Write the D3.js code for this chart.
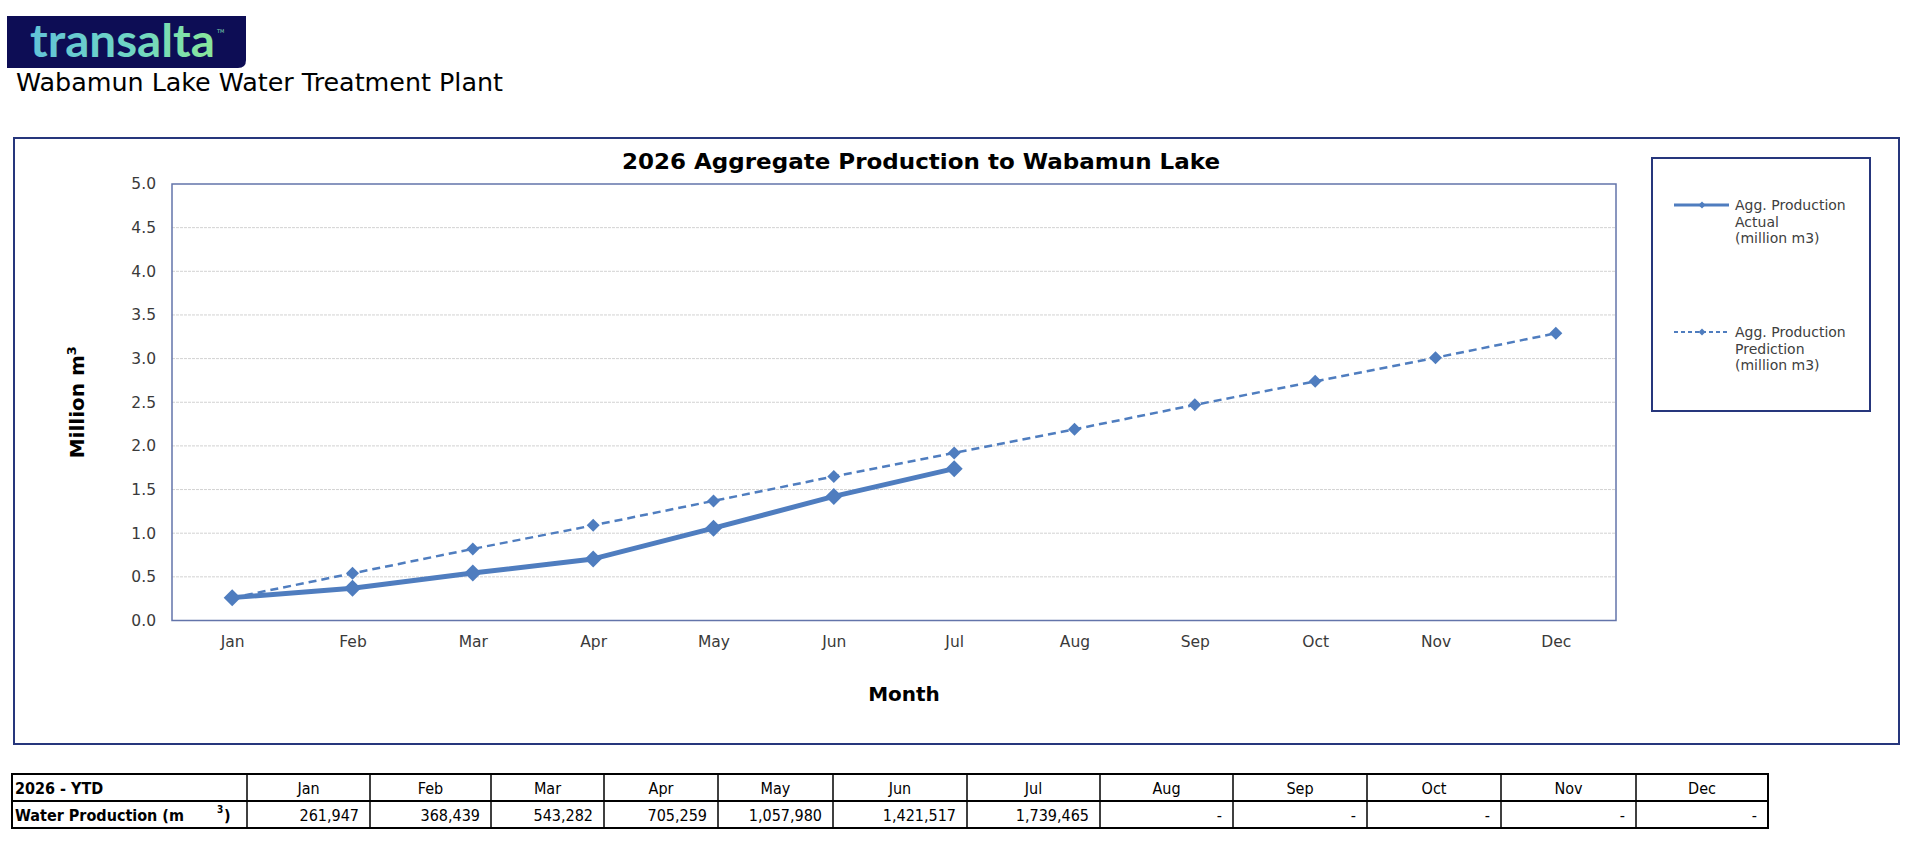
<!DOCTYPE html>
<html>
<head>
<meta charset="utf-8">
<title>2026 Aggregate Production to Wabamun Lake</title>
<script src="https://cdn.jsdelivr.net/npm/d3@7"></script>
<style>
  body { margin: 0; background: #fff; }
  svg { display: block; }
  .tick text { font-family: "DejaVu Sans", Verdana, sans-serif; font-size: 15.5px; fill: #3a3a3a; }
  .domain { display: none; }
</style>
</head>
<body>
<div id="chart"></div>
<script>
// ---- data ----
var months = ["Jan", "Feb", "Mar", "Apr", "May", "Jun", "Jul", "Aug", "Sep", "Oct", "Nov", "Dec"];
// year-to-date water production, m3 (from the table)
var actualM3 = [261947, 368439, 543282, 705259, 1057980, 1421517, 1739465];
// predicted aggregate production, million m3
var predictionMillion = [0.26, 0.54, 0.82, 1.09, 1.37, 1.65, 1.92, 2.19, 2.47, 2.74, 3.01, 3.29];
var yTicks = [0.0, 0.5, 1.0, 1.5, 2.0, 2.5, 3.0, 3.5, 4.0, 4.5, 5.0];
var seriesNames = [
	["Agg. Production", "Actual", "(million m3)"],
	["Agg. Production", "Prediction", "(million m3)"]
];
var tableCorner = "2026 - YTD";
var tableRowLabel = "Water Production (m";

// ---- layout ----
var W = 1920, H = 850;
var plot = { left: 172, right: 1616, top: 184, bottom: 620.5 };
var blue = "#4f7dbf";
var navy = "#26367c";

var svg = d3.select("#chart").append("svg")
	.attr("width", W)
	.attr("height", H);

var defs = svg.append("defs");
var grad = defs.append("linearGradient").attr("id", "logoGrad");
grad.append("stop").attr("offset", "0%").attr("stop-color", "#62c3d8");
grad.append("stop").attr("offset", "55%").attr("stop-color", "#6fd6c4");
grad.append("stop").attr("offset", "100%").attr("stop-color", "#8ae69a");

// logo
svg.append("path")
	.attr("d", "M7,16 H246 V60 Q246,68 238,68 H7 Z")
	.attr("fill", "#0d0d55");
svg.append("text")
	.attr("x", 30)
	.attr("y", 57)
	.attr("textLength", 185)
	.attr("lengthAdjust", "spacingAndGlyphs")
	.style("font-family", "Lato, 'Open Sans', sans-serif")
	.style("font-weight", 700)
	.style("font-size", "46px")
	.attr("fill", "url(#logoGrad)")
	.text("transalta");
svg.append("text")
	.attr("x", 217).attr("y", 33)
	.style("font-family", "DejaVu Sans")
	.style("font-size", "5px")
	.attr("fill", "#7fd8b0")
	.text("TM");

// page heading
svg.append("text")
	.attr("x", 16)
	.attr("y", 91)
	.attr("textLength", 487)
	.attr("lengthAdjust", "spacingAndGlyphs")
	.style("font-family", "'DejaVu Sans', Verdana, sans-serif")
	.style("font-size", "24px")
	.attr("fill", "#000")
	.text("Wabamun Lake Water Treatment Plant");

// chart frame
svg.append("rect")
	.attr("x", 14).attr("y", 138)
	.attr("width", 1885).attr("height", 606)
	.attr("fill", "#fff")
	.attr("stroke", navy)
	.attr("stroke-width", 2);

svg.append("text")
	.attr("x", 622)
	.attr("y", 169)
	.attr("textLength", 598)
	.attr("lengthAdjust", "spacingAndGlyphs")
	.style("font-family", "'DejaVu Sans', Verdana, sans-serif")
	.style("font-weight", "bold")
	.style("font-size", "22px")
	.attr("fill", "#000")
	.text("2026 Aggregate Production to Wabamun Lake");

// scales
var x = d3.scalePoint()
	.domain(months)
	.range([plot.left, plot.right])
	.padding(0.5);

var y = d3.scaleLinear()
	.domain([0, 5])
	.range([plot.bottom, plot.top]);

// gridlines
svg.selectAll("line.grid")
	.data(yTicks.filter(function(d) { return d > 0 && d < 5; }))
	.enter()
	.append("line")
	.attr("class", "grid")
	.attr("x1", plot.left)
	.attr("x2", plot.right)
	.attr("y1", function(d) { return y(d); })
	.attr("y2", function(d) { return y(d); })
	.attr("stroke", "#d2d2d2")
	.attr("stroke-width", 1)
	.attr("stroke-dasharray", "3,1");

// plot border
svg.append("rect")
	.attr("x", plot.left).attr("y", plot.top)
	.attr("width", plot.right - plot.left)
	.attr("height", plot.bottom - plot.top)
	.attr("fill", "none")
	.attr("stroke", "#6374aa")
	.attr("stroke-width", 1.5);

// axes
svg.append("g")
	.attr("transform", "translate(" + plot.left + ",0)")
	.call(d3.axisLeft(y).tickValues(yTicks).tickSize(0).tickPadding(16)
		.tickFormat(d3.format(".1f")));

svg.append("g")
	.attr("transform", "translate(0," + plot.bottom + ")")
	.call(d3.axisBottom(x).tickSize(0).tickPadding(15));

// axis titles
var yt = svg.append("text")
	.attr("transform", "translate(84," + (plot.top + plot.bottom) / 2 + ") rotate(-90)")
	.attr("text-anchor", "middle")
	.style("font-family", "'DejaVu Sans', Verdana, sans-serif")
	.style("font-weight", "bold")
	.style("font-size", "20px")
	.attr("fill", "#000");
yt.append("tspan").text("Million m");
yt.append("tspan").attr("dy", -8).style("font-size", "13px").text("3");

svg.append("text")
	.attr("x", 904)
	.attr("y", 701)
	.attr("text-anchor", "middle")
	.style("font-family", "'DejaVu Sans', Verdana, sans-serif")
	.style("font-weight", "bold")
	.style("font-size", "20px")
	.attr("fill", "#000")
	.text("Month");

// series
var actual = actualM3.map(function(v, i) { return { m: months[i], v: v / 1e6 }; });
var prediction = predictionMillion.map(function(v, i) { return { m: months[i], v: v }; });

var line = d3.line()
	.x(function(d) { return x(d.m); })
	.y(function(d) { return y(d.v); });

var diamond = function(r) {
	return "M0," + (-r) + "L" + r + ",0L0," + r + "L" + (-r) + ",0Z";
};

svg.append("path")
	.datum(prediction)
	.attr("d", line)
	.attr("fill", "none")
	.attr("stroke", blue)
	.attr("stroke-width", 2.5)
	.attr("stroke-dasharray", "8,5");

svg.selectAll("path.pred-pt")
	.data(prediction)
	.enter()
	.append("path")
	.attr("class", "pred-pt")
	.attr("d", diamond(6.5))
	.attr("transform", function(d) { return "translate(" + x(d.m) + "," + y(d.v) + ")"; })
	.attr("fill", blue);

svg.append("path")
	.datum(actual)
	.attr("d", line)
	.attr("fill", "none")
	.attr("stroke", blue)
	.attr("stroke-width", 5)
	.attr("stroke-linejoin", "round");

svg.selectAll("path.act-pt")
	.data(actual)
	.enter()
	.append("path")
	.attr("class", "act-pt")
	.attr("d", diamond(8.5))
	.attr("transform", function(d) { return "translate(" + x(d.m) + "," + y(d.v) + ")"; })
	.attr("fill", blue);

// legend
svg.append("rect")
	.attr("x", 1652).attr("y", 158)
	.attr("width", 218).attr("height", 253)
	.attr("fill", "#fff")
	.attr("stroke", navy)
	.attr("stroke-width", 2);

var legendY = [205, 332];
var leg = svg.selectAll("g.leg")
	.data(seriesNames)
	.enter()
	.append("g")
	.attr("class", "leg")
	.attr("transform", function(d, i) { return "translate(1674," + legendY[i] + ")"; });

leg.append("line")
	.attr("x1", 0).attr("x2", 55)
	.attr("stroke", blue)
	.attr("stroke-width", function(d, i) { return i === 0 ? 3 : 2; })
	.attr("stroke-dasharray", function(d, i) { return i === 0 ? null : "4,3"; });
leg.append("path")
	.attr("d", diamond(3.5))
	.attr("transform", "translate(28,0)")
	.attr("fill", blue);
leg.append("text")
	.attr("x", 61)
	.attr("y", 5)
	.style("font-family", "'DejaVu Sans', Verdana, sans-serif")
	.style("font-size", "14px")
	.attr("fill", "#404040")
	.selectAll("tspan")
	.data(function(d) { return d; })
	.enter()
	.append("tspan")
	.attr("x", 61)
	.attr("dy", function(d, i) { return i === 0 ? 0 : 16.5; })
	.text(function(d) { return d; });

// ---- table ----
var colWidths = [235, 123, 121, 113, 114, 115, 134, 133, 133, 134, 134, 135, 132];
var colEdges = [12];
colWidths.forEach(function(w) { colEdges.push(colEdges[colEdges.length - 1] + w); });
var rowTop = 774, rowH = 27;
var fmt = d3.format(",");
var rowValues = months.map(function(m, i) { return i < actualM3.length ? fmt(actualM3[i]) : "-"; });

var tbl = svg.append("g")
	.style("font-family", "'DejaVu Sans Condensed', 'DejaVu Sans', sans-serif")
	.style("font-size", "16px")
	.attr("fill", "#000");

tbl.selectAll("line.col")
	.data(colEdges.slice(1, -1))
	.enter()
	.append("line")
	.attr("x1", function(d) { return d; })
	.attr("x2", function(d) { return d; })
	.attr("y1", rowTop).attr("y2", rowTop + 2 * rowH)
	.attr("stroke", "#000")
	.attr("stroke-width", 1.5);
tbl.append("line")
	.attr("x1", colEdges[0]).attr("x2", colEdges[colEdges.length - 1])
	.attr("y1", rowTop + rowH).attr("y2", rowTop + rowH)
	.attr("stroke", "#000").attr("stroke-width", 2);
tbl.append("rect")
	.attr("x", colEdges[0]).attr("y", rowTop)
	.attr("width", colEdges[colEdges.length - 1] - colEdges[0])
	.attr("height", 2 * rowH)
	.attr("fill", "none")
	.attr("stroke", "#000")
	.attr("stroke-width", 2);

tbl.append("text")
	.attr("x", colEdges[0] + 3).attr("y", rowTop + 20)
	.style("font-weight", "bold")
	.text(tableCorner);
tbl.append("text")
	.attr("x", colEdges[0] + 3).attr("y", rowTop + rowH + 20)
	.style("font-weight", "bold")
	.text(tableRowLabel);
tbl.append("text")
	.attr("x", colEdges[0] + 205).attr("y", rowTop + rowH + 12)
	.style("font-weight", "bold")
	.style("font-size", "10px")
	.text("3");
tbl.append("text")
	.attr("x", colEdges[0] + 212).attr("y", rowTop + rowH + 20)
	.style("font-weight", "bold")
	.text(")");

tbl.selectAll("text.mh")
	.data(months)
	.enter()
	.append("text")
	.attr("class", "mh")
	.attr("text-anchor", "middle")
	.attr("x", function(d, i) { return (colEdges[i + 1] + colEdges[i + 2]) / 2; })
	.attr("y", rowTop + 20)
	.text(function(d) { return d; });

tbl.selectAll("text.mv")
	.data(rowValues)
	.enter()
	.append("text")
	.attr("class", "mv")
	.attr("text-anchor", "end")
	.attr("x", function(d, i) { return colEdges[i + 2] - 11; })
	.attr("y", rowTop + rowH + 20)
	.text(function(d) { return d; });
</script>
</body>
</html>
